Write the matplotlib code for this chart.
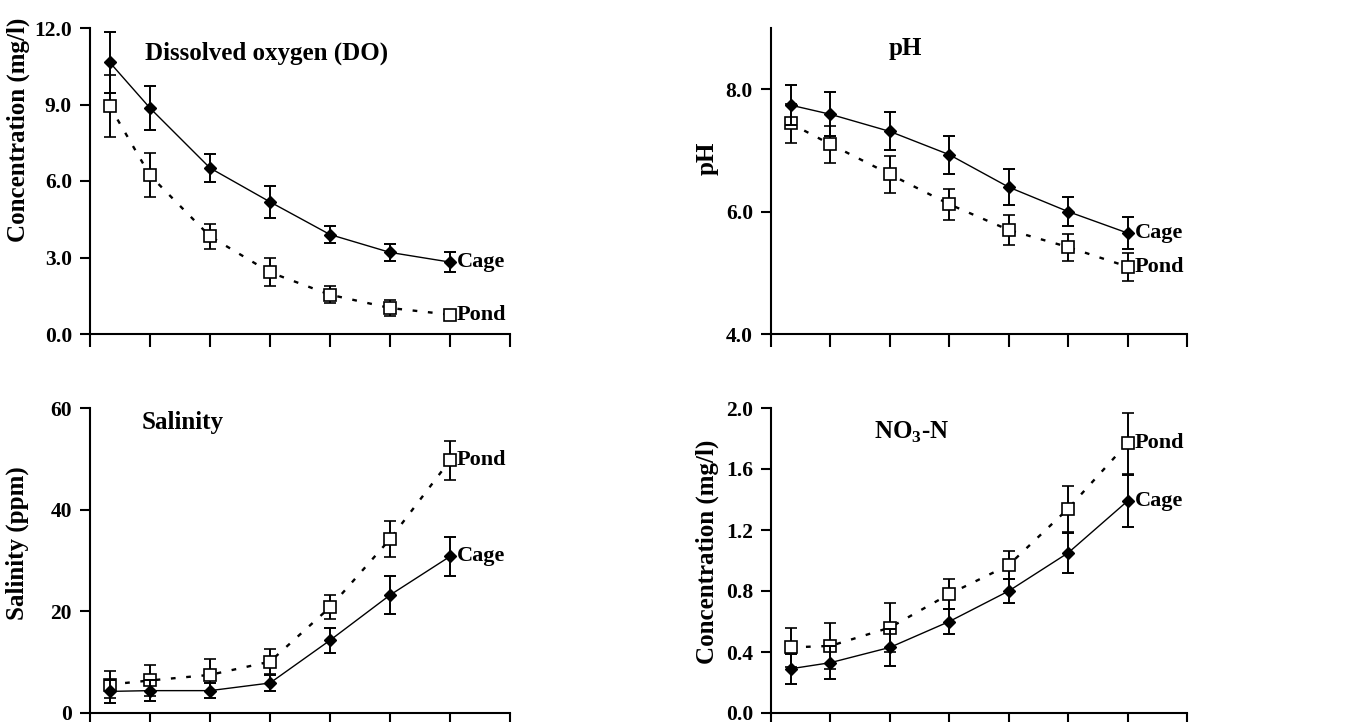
import matplotlib
matplotlib.use("Agg")
import matplotlib.pyplot as plt

plt.rcParams["font.family"] = ["Liberation Serif", "DejaVu Serif"]
plt.rcParams["font.weight"] = "bold"
plt.rcParams["mathtext.fontset"] = "custom"
plt.rcParams["mathtext.rm"] = "Liberation Serif:bold"
plt.rcParams["mathtext.bf"] = "Liberation Serif:bold"

W, H = 1351, 722

# sampling positions along the x axis
xpos = [0.33, 1, 2, 3, 4, 5, 6]

# dissolved oxygen (mg/l)
do_cage = [10.65, 8.86, 6.51, 5.18, 3.90, 3.20, 2.82]
do_cage_sd = [1.2, 0.87, 0.55, 0.62, 0.33, 0.33, 0.38]
do_pond = [8.93, 6.22, 3.83, 2.42, 1.54, 1.02, 0.76]
do_pond_sd = [1.22, 0.86, 0.50, 0.55, 0.33, 0.30, 0.20]

# pH
ph_cage = [7.74, 7.59, 7.31, 6.93, 6.40, 6.00, 5.65]
ph_cage_sd = [0.33, 0.36, 0.31, 0.31, 0.29, 0.24, 0.26]
ph_pond = [7.44, 7.10, 6.61, 6.12, 5.70, 5.42, 5.10]
ph_pond_sd = [0.32, 0.30, 0.30, 0.25, 0.24, 0.22, 0.23]

# salinity (ppm)
sal_cage = [4.25, 4.4, 4.4, 5.9, 14.3, 23.2, 30.8]
sal_cage_sd = [2.2, 2.1, 1.5, 1.5, 2.4, 3.7, 3.9]
sal_pond = [5.6, 6.4, 7.5, 10.1, 20.8, 34.2, 49.7]
sal_pond_sd = [2.6, 3.1, 3.1, 2.4, 2.4, 3.6, 3.8]

# nitrate nitrogen (mg/l)
no3_cage = [0.29, 0.33, 0.43, 0.60, 0.80, 1.05, 1.39]
no3_cage_sd = [0.10, 0.11, 0.12, 0.08, 0.08, 0.13, 0.17]
no3_pond = [0.43, 0.44, 0.56, 0.78, 0.97, 1.34, 1.77]
no3_pond_sd = [0.13, 0.15, 0.16, 0.10, 0.09, 0.15, 0.20]


def fx(px):
    return px / W


def fy(py):
    return 1 - py / H


fig = plt.figure(figsize=(W / 100, H / 100), dpi=100)


def panel(rect, cage, cage_sd, pond, pond_sd, ylim, yticks, fmt):
    left, top, right, bottom = rect
    ax = fig.add_axes([fx(left), fy(bottom), fx(right - left), (bottom - top) / H])
    ax.errorbar(xpos, pond, yerr=pond_sd, color="black", ls=(0, (2, 4.5)), lw=1.7,
                marker="s", ms=8.5, mfc="white", mec="black", mew=1.2,
                elinewidth=1.4, capsize=4, capthick=1.4, zorder=2)
    ax.errorbar(xpos, cage, yerr=cage_sd, color="black", ls="-", lw=1.0,
                marker="D", ms=6, mfc="black", mec="black",
                elinewidth=1.4, capsize=4, capthick=1.4, zorder=3)
    ax.set_xlim(0, 7)
    ax.set_ylim(*ylim)
    ax.set_xticks(range(8))
    ax.set_xticklabels([])
    ax.set_yticks(yticks)
    ax.set_yticklabels([fmt.format(v) for v in yticks])
    for s in ("top", "right"):
        ax.spines[s].set_visible(False)
    for s in ("left", "bottom"):
        ax.spines[s].set_linewidth(1.5)
    ax.tick_params(axis="x", direction="out", length=9, width=1.5)
    ax.tick_params(axis="y", direction="out", length=7, width=1.5, pad=6,
                   labelsize=15.5)
    for lab, vals in zip(("Cage", "Pond"), (cage, pond)):
        ax.annotate(lab, (xpos[-1], vals[-1]), xytext=(5, 0),
                    textcoords="offset points", ha="left", va="center",
                    fontsize=16, fontweight="bold")
    return ax


panel((90, 28, 510, 334), do_cage, do_cage_sd, do_pond, do_pond_sd,
      (0, 12), [0, 3, 6, 9, 12], "{:.1f}")
panel((771, 28, 1187, 334), ph_cage, ph_cage_sd, ph_pond, ph_pond_sd,
      (4, 9), [4, 6, 8], "{:.1f}")
panel((90, 408, 510, 713), sal_cage, sal_cage_sd, sal_pond, sal_pond_sd,
      (0, 60), [0, 20, 40, 60], "{:.0f}")
panel((771, 408, 1187, 713), no3_cage, no3_cage_sd, no3_pond, no3_pond_sd,
      (0, 2), [0, 0.4, 0.8, 1.2, 1.6, 2.0], "{:.1f}")

# panel titles
fig.text(fx(267), fy(53), "Dissolved oxygen (DO)", ha="center", va="center", fontsize=18)
fig.text(fx(905), fy(48), "pH", ha="center", va="center", fontsize=18)
fig.text(fx(183), fy(422), "Salinity", ha="center", va="center", fontsize=18)
fig.text(fx(912), fy(432), r"NO$_3$-N", ha="center", va="center", fontsize=18)

# axis labels
fig.text(fx(18), fy(130), "Concentration (mg/l)", rotation=90, ha="center", va="center", fontsize=18)
fig.text(fx(707), fy(158), "pH", rotation=90, ha="center", va="center", fontsize=18)
fig.text(fx(17), fy(543), "Salinity (ppm)", rotation=90, ha="center", va="center", fontsize=18)
fig.text(fx(707), fy(552), "Concentration (mg/l)", rotation=90, ha="center", va="center", fontsize=18)

fig.savefig("out.png", dpi=100, facecolor="white")
